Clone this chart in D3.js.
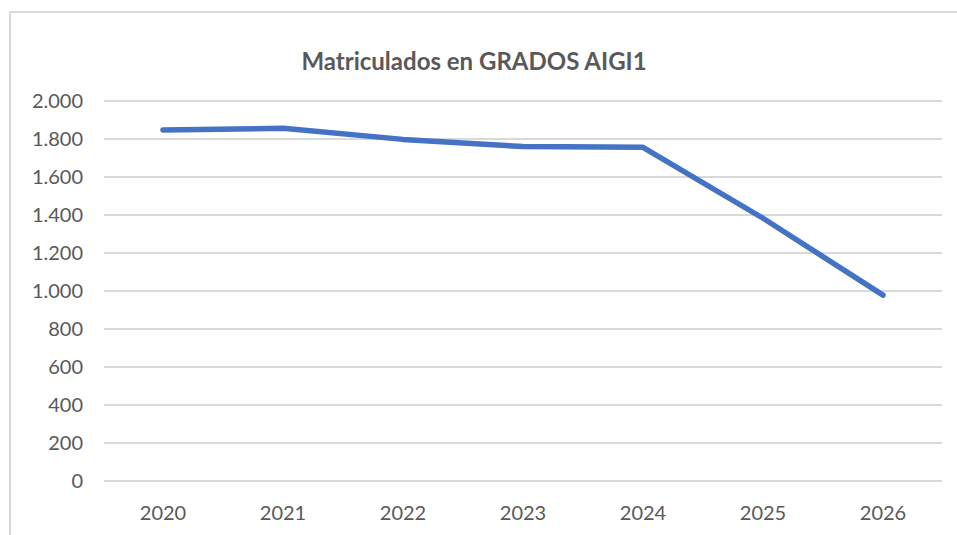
<!DOCTYPE html>
<html lang="es">
<head>
<meta charset="UTF-8">
<title>Matriculados en GRADOS AIGI1</title>
<script src="https://d3js.org/d3.v7.min.js"></script>
<style>
  body { margin: 0; background: #fff; }
  svg { display: block; font-family: Lato, "Open Sans", sans-serif; }
</style>
</head>
<body>
<div id="chart"></div>
<script>
// datos
const years = ["2020", "2021", "2022", "2023", "2024", "2025", "2026"];
const matriculados = [1847, 1856, 1798, 1760, 1756, 1383, 978];
const yTicks = [0, 200, 400, 600, 800, 1000, 1200, 1400, 1600, 1800, 2000];

const width = 957, height = 535;
const svg = d3.select("#chart").append("svg")
  .attr("width", width)
  .attr("height", height);

// marco del grafico
svg.append("rect")
  .attr("x", 10).attr("y", 12)
  .attr("width", 1000).attr("height", 600)
  .attr("fill", "none")
  .attr("stroke", "#d9d9d9")
  .attr("stroke-width", 2);

const x = d3.scaleBand().domain(years).range([103, 943]);
const y = d3.scaleLinear().domain([0, 2000]).range([481, 101]);

const fmt = d => d3.format(",")(d).replace(/,/g, ".");

// lineas de cuadricula
svg.append("g")
  .selectAll("line")
  .data(yTicks)
  .join("line")
  .attr("x1", 104).attr("x2", 942)
  .attr("y1", d => y(d)).attr("y2", d => y(d))
  .attr("stroke", "#d9d9d9")
  .attr("stroke-width", 2);

// etiquetas eje Y
const yAxis = d3.axisLeft(y).tickValues(yTicks).tickFormat(fmt).tickSize(0).tickPadding(0);
const gy = svg.append("g").attr("transform", "translate(83,0)").call(yAxis);
gy.select(".domain").remove();
gy.selectAll("text")
  .attr("font-family", "Lato, sans-serif")
  .attr("font-size", 20)
  .attr("fill", "#595959");

// etiquetas eje X
const xAxis = d3.axisBottom(x).tickSize(0).tickPadding(0);
const gx = svg.append("g").attr("transform", "translate(0,505)").call(xAxis);
gx.select(".domain").remove();
gx.selectAll("text")
  .attr("dy", "0.75em")
  .attr("font-family", "Lato, sans-serif")
  .attr("font-size", 20)
  .attr("fill", "#595959");

// linea de datos
const line = d3.line()
  .x((d, i) => x(years[i]) + x.bandwidth() / 2)
  .y(d => y(d));

svg.append("path")
  .datum(matriculados)
  .attr("d", line)
  .attr("fill", "none")
  .attr("stroke", "#4472c4")
  .attr("stroke-width", 5.5)
  .attr("stroke-linecap", "round")
  .attr("stroke-linejoin", "round");

// titulo
svg.append("text")
  .attr("x", 474).attr("y", 70)
  .attr("text-anchor", "middle")
  .attr("font-family", "Lato, sans-serif")
  .attr("font-weight", 700)
  .attr("font-size", 24)
  .attr("fill", "#595959")
  .text("Matriculados en GRADOS AIGI1");
</script>
</body>
</html>
